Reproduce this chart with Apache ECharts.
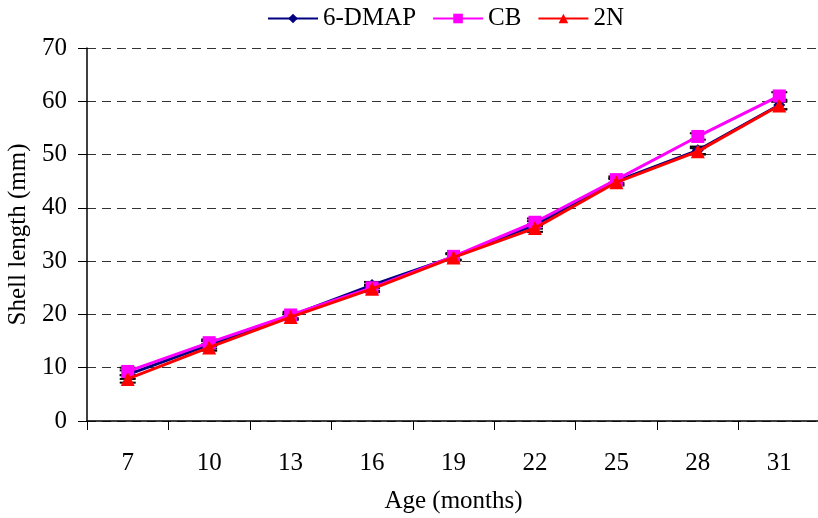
<!DOCTYPE html>
<html>
<head>
<meta charset="utf-8">
<script src="https://cdn.jsdelivr.net/npm/echarts@6/dist/echarts.min.js"></script>
<style>
  html, body { margin: 0; padding: 0; background: #fff; }
  #chart { width: 818px; height: 518px; }
</style>
</head>
<body>
<div id="chart"></div>
<script>
  // ages in months
  const ages = ['7', '10', '13', '16', '19', '22', '25', '28', '31'];
  const dmap = [8.7, 14.3, 19.7, 25.5, 30.8, 36.8, 45.0, 50.8, 59.3];
  const cb = [9.3, 14.7, 19.9, 25.0, 30.9, 37.3, 45.3, 53.4, 61.0];
  const n2 = [7.9, 13.8, 19.5, 24.8, 30.7, 36.2, 44.8, 50.6, 59.2];
  // standard errors (approx)
  const dmapErr = [0.8, 0.7, 0.6, 0.6, 0.6, 0.7, 0.6, 0.7, 0.8];
  const cbErr = [0.7, 0.6, 0.6, 0.6, 0.6, 0.7, 0.6, 0.6, 0.7];
  const n2Err = [0.7, 0.6, 0.5, 0.6, 0.6, 0.7, 0.6, 0.6, 0.7];

  const font = 'Liberation Serif, Times New Roman, serif';
  let myChart = echarts.init(document.getElementById('chart'));

  function errData (vals, errs) {
    let out = [];
    for (let i = 0; i < vals.length; i++) {
      out.push([i, vals[i] - errs[i], vals[i] + errs[i]]);
    }
    return out;
  }

  function renderErr (params, api) {
    let x = api.value(0);
    let lo = api.coord([x, api.value(1)]);
    let hi = api.coord([x, api.value(2)]);
    let w = 8;
    let style = { stroke: '#000', lineWidth: 2 };
    return {
      type: 'group',
      children: [
        { type: 'line', shape: { x1: lo[0] - w, y1: lo[1], x2: lo[0] + w, y2: lo[1] }, style: style },
        { type: 'line', shape: { x1: hi[0] - w, y1: hi[1], x2: hi[0] + w, y2: hi[1] }, style: style },
        { type: 'line', shape: { x1: lo[0], y1: lo[1], x2: hi[0], y2: hi[1] }, style: style }
      ]
    };
  }

  function errSeries (vals, errs) {
    return {
      type: 'custom',
      renderItem: renderErr,
      data: errData(vals, errs),
      encode: { x: 0, y: [1, 2] },
      silent: true,
      z: 1
    };
  }

  myChart.setOption({
    animation: false,
    textStyle: { fontFamily: font },
    legend: {
      top: 1,
      left: 262,
      itemWidth: 50,
      itemHeight: 12,
      itemGap: 16,
      textStyle: { fontFamily: font, fontSize: 25, color: '#000' },
      data: ['6-DMAP', 'CB', '2N']
    },
    grid: {
      left: 87,
      top: 48,
      width: 733,
      height: 373,
      outerBoundsMode: 'none',
      containLabel: false
    },
    xAxis: {
      type: 'category',
      data: ages,
      boundaryGap: true,
      name: 'Age (months)',
      nameLocation: 'middle',
      nameGap: 68,
      nameTextStyle: { fontFamily: font, fontSize: 25, color: '#000' },
      axisLine: { lineStyle: { color: '#000', width: 1.5 } },
      axisTick: { show: true, length: 9, lineStyle: { color: '#000' } },
      axisLabel: { fontFamily: font, fontSize: 25, color: '#000', margin: 30 },
      splitLine: { show: false }
    },
    yAxis: {
      type: 'value',
      min: 0,
      max: 70,
      interval: 10,
      name: 'Shell length (mm)',
      nameLocation: 'middle',
      nameGap: 53,
      nameRotate: 90,
      nameTextStyle: { fontFamily: font, fontSize: 25, color: '#000' },
      axisLine: { show: true, lineStyle: { color: '#000', width: 1.5 } },
      axisTick: { show: true, length: 9, lineStyle: { color: '#000' } },
      axisLabel: { fontFamily: font, fontSize: 25, color: '#000', margin: 20 },
      splitLine: { show: true, lineStyle: { color: '#333', type: [9, 6], width: 1 } }
    },
    series: [
      errSeries(dmap, dmapErr),
      errSeries(cb, cbErr),
      errSeries(n2, n2Err),
      {
        name: '6-DMAP',
        type: 'line',
        data: dmap,
        color: '#000080',
        symbol: 'diamond',
        symbolSize: 12,
        lineStyle: { width: 3 },
        z: 3
      },
      {
        name: 'CB',
        type: 'line',
        data: cb,
        color: '#ff00ff',
        symbol: 'rect',
        symbolSize: 13,
        lineStyle: { width: 3 },
        z: 4
      },
      {
        name: '2N',
        type: 'line',
        data: n2,
        color: '#ff0000',
        symbol: 'triangle',
        symbolSize: 14,
        lineStyle: { width: 3 },
        z: 5
      }
    ]
  });
</script>
</body>
</html>
